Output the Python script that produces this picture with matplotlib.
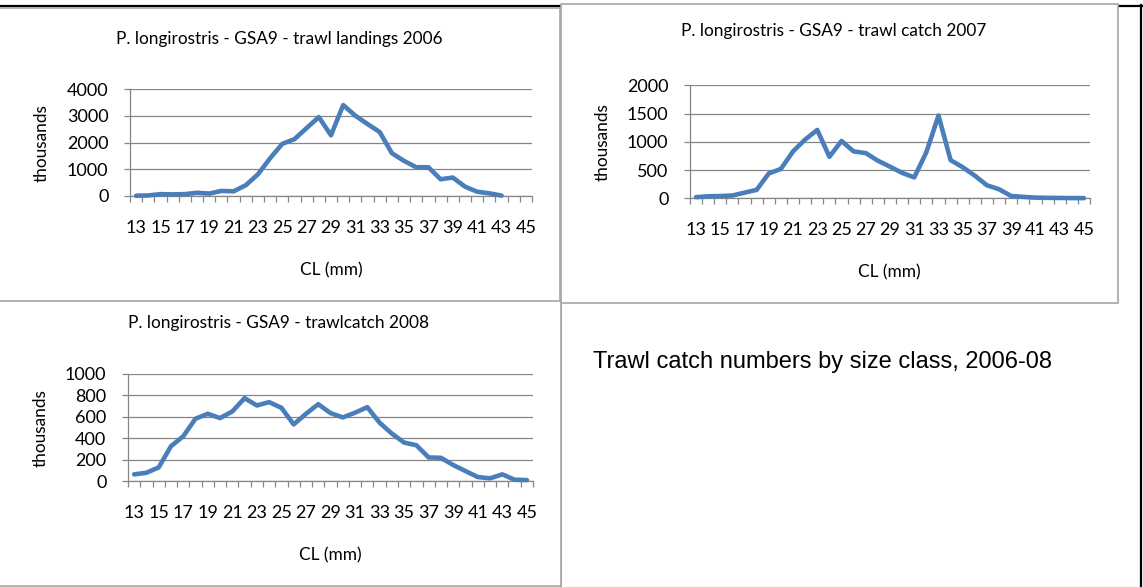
import numpy as np
import matplotlib
matplotlib.use('Agg')
import matplotlib.pyplot as plt
from matplotlib.patches import Rectangle
from matplotlib.lines import Line2D

# carapace length classes (mm)
cl = list(range(13, 46))

# numbers at length, thousands
landings_2006 = [10, 20, 70, 60, 70, 120, 90, 190, 175, 400, 810, 1410, 1950, 2125,
                 2540, 2950, 2270, 3400, 3000, 2690, 2390, 1600, 1310, 1075, 1075,
                 625, 690, 350, 160, 100, 15, np.nan, np.nan]
catch_2007 = [20, 35, 40, 50, 100, 150, 440, 520, 830, 1040, 1210, 735, 1015, 830,
              800, 665, 560, 450, 370, 815, 1465, 675, 550, 400, 230, 160, 40, 25,
              12, 8, 6, 4, 3]
catch_2008 = [62, 77, 127, 325, 418, 582, 628, 588, 650, 774, 706, 737, 684, 529,
              628, 718, 635, 594, 638, 690, 545, 443, 359, 334, 220, 217, 149, 93,
              37, 25, 62, 12, 9]

titles = ['P. longirostris - GSA9 - trawl landings 2006',
          'P. longirostris - GSA9 - trawl catch 2007',
          'P. longirostris - GSA9 - trawlcatch 2008']
ymax = [4000, 2000, 1000]
ystep = [1000, 500, 200]

W, H = 1143, 587
LINE = '#4a7ebb'
GRID = '#868686'
FRAME = '#a6a6a6'
FONT = ['Lato', 'DejaVu Sans']


def px(x, y):
    return x / W, 1 - y / H


def box(x0, y0, x1, y1):
    return [x0 / W, 1 - y1 / H, (x1 - x0) / W, (y1 - y0) / H]


fig = plt.figure(figsize=(W / 100, H / 100), dpi=100)

# page rules
fig.add_artist(Line2D([0, 1], [1 - 6 / H] * 2, color='black', lw=1.6, zorder=-3))
fig.add_artist(Line2D([1141 / W] * 2, [1 - 5 / H, 0], color='black', lw=1.6, zorder=-3))
fig.add_artist(Line2D([561 / W] * 2, [1 - 300 / H, 0], color=FRAME, lw=1.2, zorder=-3))

# chart frames, plot areas, text positions (pixels)
frames = [(-2, 8, 560, 302), (561, 4, 1118, 303), (-2, 301, 561, 586)]
areas = [(130, 89, 532, 196), (690, 85.3, 1090, 198.3), (128, 374, 533, 481)]
title_xy = [(279, 39), (834, 31), (279, 323)]
xlab_xy = [(331, 270), (889, 272), (330, 555)]
ylab_xy = [(42, 143), (603, 142), (41, 428)]
series = [landings_2006, catch_2007, catch_2008]

x = np.arange(len(cl))
for i in range(3):
    x0, y0, x1, y1 = frames[i]
    fig.add_artist(Rectangle(px(x0, y1), (x1 - x0) / W, (y1 - y0) / H,
                             transform=fig.transFigure, facecolor='white',
                             edgecolor=FRAME, lw=1.2, zorder=-2))

    ax = fig.add_axes(box(*areas[i]))
    ax.set_facecolor('none')
    ax.plot(x, series[i], color=LINE, lw=3.3, solid_joinstyle='round',
            solid_capstyle='round', clip_on=False, zorder=3)
    ax.set_xlim(-0.5, len(cl) - 0.5)
    ax.set_ylim(0, ymax[i])
    ax.set_yticks(np.arange(0, ymax[i] + 1, ystep[i]))
    ax.set_xticks(np.arange(-0.5, len(cl)))
    ax.set_xticklabels([])
    ax.set_xticks(x[::2], labels=[str(c) for c in cl[::2]], minor=True)
    ax.tick_params(axis='x', which='major', length=4.5, width=0.9, color=GRID,
                   direction='out')
    ax.tick_params(axis='x', which='minor', length=0, pad=17, labelsize=13)
    ax.tick_params(axis='y', length=4.5, width=0.9, color=GRID, pad=11, labelsize=13)
    for lab in ax.get_xticklabels(minor=True) + ax.get_yticklabels():
        lab.set_family(FONT)
    ax.grid(axis='y', color=GRID, lw=0.9)
    ax.set_axisbelow(True)
    for s in ['top', 'right']:
        ax.spines[s].set_visible(False)
    for s in ['left', 'bottom']:
        ax.spines[s].set_color(GRID)
        ax.spines[s].set_linewidth(0.9)

    fig.text(*px(*title_xy[i]), titles[i], ha='center', va='center',
             fontsize=12.4, family=FONT)
    fig.text(*px(*xlab_xy[i]), 'CL (mm)', ha='center', va='center',
             fontsize=12.4, family=FONT)
    fig.text(*px(*ylab_xy[i]), 'thousands', ha='center', va='center',
             rotation=90, fontsize=12.4, family=FONT)

fig.text(*px(593, 362), 'Trawl catch numbers by size class, 2006-08',
         ha='left', va='center', fontsize=17, family=['Liberation Sans', 'DejaVu Sans'])

fig.savefig('out.png', dpi=100, facecolor='white')
